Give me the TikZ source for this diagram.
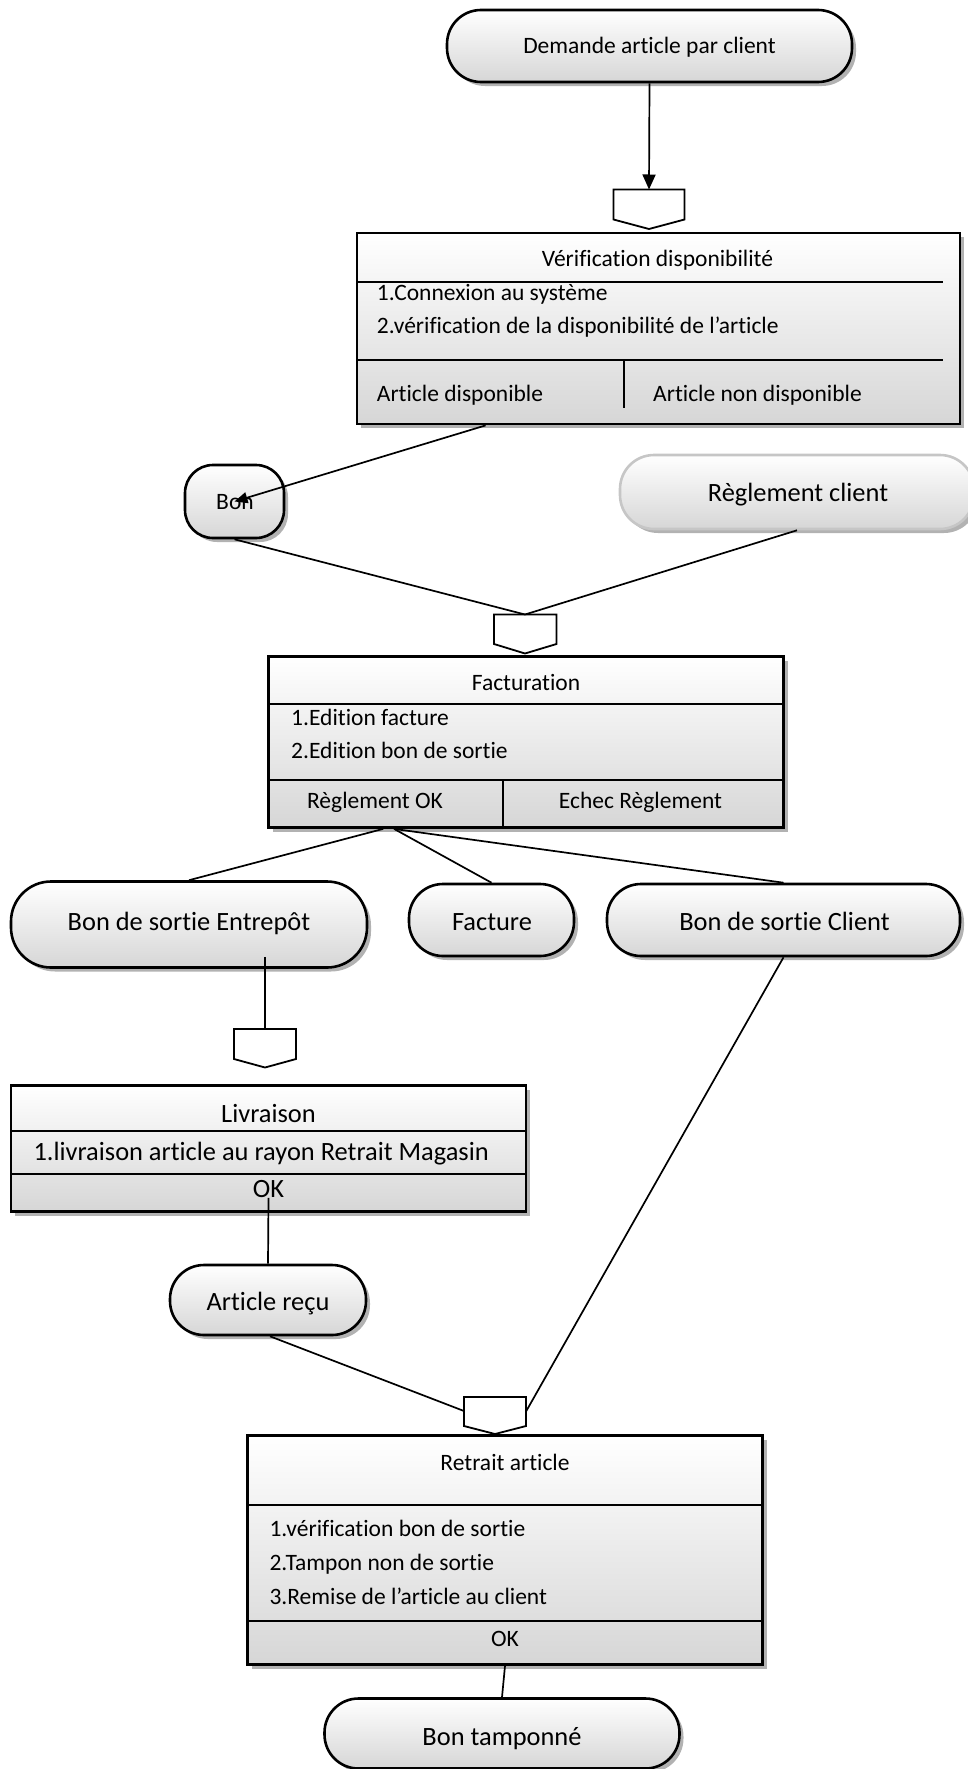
\documentclass[tikz,border=0pt]{standalone}
\usepackage{fontspec}
\setmainfont{Carlito}[Ligatures={NoCommon,NoContextual}]
\usetikzlibrary{arrows.meta,shadows,calc}
\newcommand\szA{\fontsize{23.5}{28}\selectfont}
\newcommand\szB{\fontsize{26.4}{31}\selectfont}
\tikzset{
  shd/.style={drop shadow={shadow xshift=4pt,shadow yshift=-4pt,fill=black,opacity=0.3}},
  pill/.style={draw=black,line width=2.6pt,rounded corners=#1,top color=white,bottom color=gray!32,inner sep=0pt,shd},
  pill/.default=34pt,
  box/.style={draw=black,line width=2.8pt,top color=white,bottom color=gray!32,inner sep=0pt,shd},
  sep/.style={line width=1.9pt},
  conn/.style={line width=1.7pt},
  pent/.style={draw=black,fill=white,line width=1.8pt},
  lbl/.style={inner sep=0pt,font=\szA,anchor=base},
  lblB/.style={inner sep=0pt,font=\szB,anchor=base},
  tipA/.style={-{Triangle[length=15pt,width=13pt]}},
}
\begin{document}
\begin{tikzpicture}[x=1pt,y=-1pt]
\useasboundingbox (0,0) rectangle (967,1769);
% ---- shapes ----
\node[pill,minimum width=405pt,minimum height=72pt] (dem) at (649.5,46) {};
\node[box,minimum width=603pt,minimum height=191pt] (ver) at (658.5,328.5) {};
\node[pill=28pt,minimum width=99pt,minimum height=73pt] (bon) at (234.5,501.5) {};
\node[pill,draw=gray!45,minimum width=354pt,minimum height=74pt] (reg) at (797,492) {};
\node[box,minimum width=515pt,minimum height=171pt] (fac) at (526,742) {};
\node[pill=40pt,minimum width=356pt,minimum height=86pt] (ent) at (189,924.5) {};
\node[pill,minimum width=165pt,minimum height=72pt] (fct) at (491.5,920) {};
\node[pill,minimum width=353pt,minimum height=72pt] (cli) at (783.5,920) {};
\node[box,minimum width=515pt,minimum height=126pt] (liv) at (268.5,1148.5) {};
\node[pill,minimum width=196pt,minimum height=70pt] (arl) at (268,1300) {};
\node[box,minimum width=515pt,minimum height=229pt] (ret) at (505,1550) {};
\node[pill,minimum width=355pt,minimum height=70pt] (bt) at (502,1733.5) {};
% ---- pentagons ----
\draw[pent] (613.5,189.5) -- (684.5,189.5) -- (684.5,219.5) -- (649,229) -- (613.5,219.5) -- cycle;
\coordinate (pt1) at (649,189.5);
\draw[pent] (494,614.5) -- (556.5,614.5) -- (556.5,644) -- (525,653.5) -- (494,644) -- cycle;
\coordinate (pt2) at (525,614.5);
\draw[pent] (234,1029) -- (296,1029) -- (296,1059) -- (265,1067.5) -- (234,1059) -- cycle;
\coordinate (pt3) at (265,1029);
\draw[pent] (464,1397) -- (526,1397) -- (526,1426) -- (495,1434) -- (464,1426) -- cycle;
\coordinate (pl4) at (464,1411);
\coordinate (pr4) at (526,1411.5);
% ---- compartments ----
\draw[sep] (357,282) -- (943,282);
\draw[sep] (357,360) -- (943,360);
\draw[sep] (624,360) -- (624,408);
\draw[sep] (268.5,704) -- (783.5,704);
\draw[sep] (268.5,780) -- (783.5,780);
\draw[sep] (503,780) -- (503,827.5);
\draw[sep] (11,1131) -- (526,1131);
\draw[sep] (11,1174) -- (526,1174);
\draw[sep] (247.5,1505) -- (762.5,1505);
\draw[sep] (247.5,1621) -- (762.5,1621);
% ---- texts ----
\node[lbl] (demt) at (649.5,53.3) {Demande article par client};
\node[lbl] (bont) at (235,509) {Bon};
\node[lblB] (regt) at (798,501.7) {Règlement client};
\node[lbl] (vt) at (657.5,266.7) {Vérification disponibilité};
\node[lbl,anchor=base west] (v1) at (376.7,300) {1.Connexion au système};
\node[lbl,anchor=base west] (v2) at (376.7,333) {2.vérification de la disponibilité de l’article};
\node[lbl,anchor=base west] (v3) at (376.7,401.7) {Article disponible};
\node[lbl,anchor=base west] (v4) at (653,401.7) {Article non disponible};
\node[lbl] (ft) at (526,690.7) {Facturation};
\node[lbl,anchor=base west] (f1) at (291,725) {1.Edition facture};
\node[lbl,anchor=base west] (f2) at (291,758) {2.Edition bon de sortie};
\node[lbl] (f3) at (375,808) {Règlement OK};
\node[lbl] (f4) at (640.5,808) {Echec Règlement};
\node[lblB] (entt) at (189,930) {Bon de sortie Entrepôt};
\node[lblB] (fctt) at (492,930) {Facture};
\node[lblB] (clit) at (784.5,930) {Bon de sortie Client};
\node[lblB] (lt) at (268.5,1122.7) {Livraison};
\node[lblB,anchor=base west] (l1) at (33.3,1160) {1.livraison article au rayon Retrait Magasin};
\node[lblB] (l2) at (268.5,1197.3) {OK};
\node[lblB] (arlt) at (268,1310.7) {Article reçu};
\node[lbl] (rt) at (505,1470) {Retrait article};
\node[lbl,anchor=base west] (r1) at (269.3,1536.7) {1.vérification bon de sortie};
\node[lbl,anchor=base west] (r2) at (269.3,1570.7) {2.Tampon non de sortie};
\node[lbl,anchor=base west] (r3) at (269.3,1604) {3.Remise de l’article au client};
\node[lbl] (r4) at (505,1646) {OK};
\node[lblB] (btt) at (502,1745) {Bon tamponné};
% ---- connectors ----
\draw[conn,tipA] (dem.south) -- (pt1);
\draw[conn,-{Triangle[length=13pt,width=11pt]}] ([xshift=130pt]ver.south west) -- (bon.center);
\draw[conn] (bon.south) -- (pt2);
\draw[conn] (reg.south) -- (pt2);
\draw[conn] ([xshift=116pt]fac.south west) -- (ent.north);
\draw[conn] ([xshift=127pt]fac.south west) -- (fct.north);
\draw[conn] ([xshift=127pt]fac.south west) -- (cli.north);
\draw[conn] ($(ent.south -| pt3)+(0,-12)$) -- (pt3);
\draw[conn] ($(liv.south)+(0,-15)$) -- (arl.north);
\draw[conn] ([xshift=2pt]arl.south) -- (pl4);
\draw[conn] (cli.south) -- (pr4);
\draw[conn] (ret.south) -- (bt.north);
\end{tikzpicture}
\end{document}
